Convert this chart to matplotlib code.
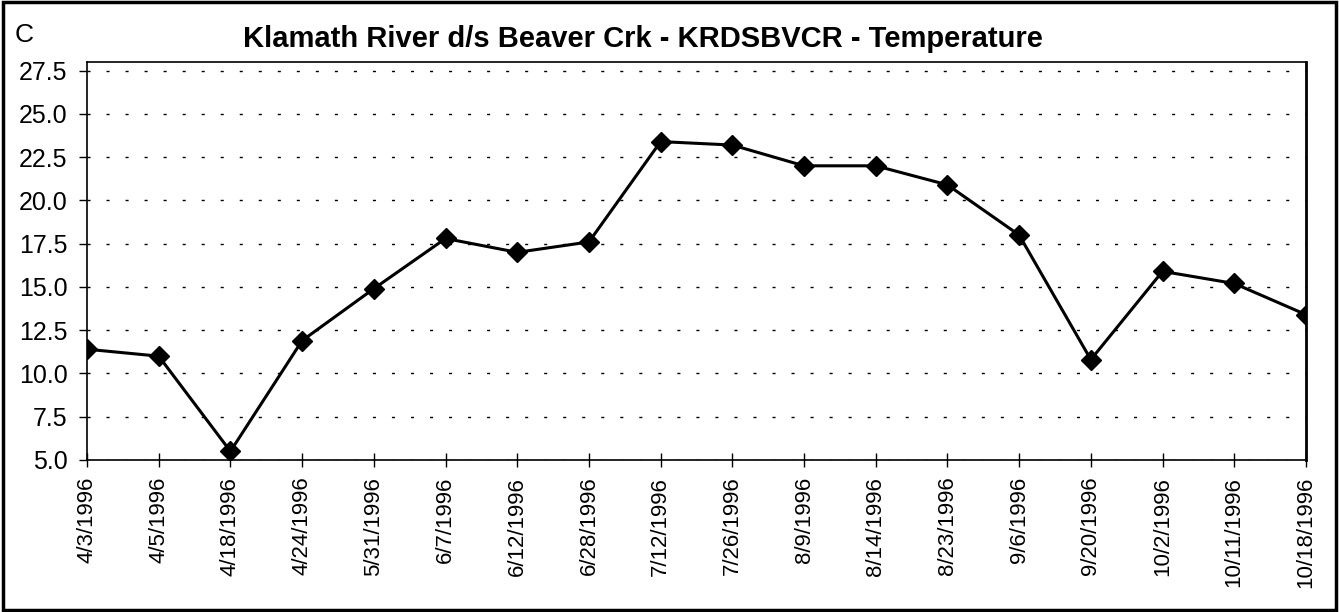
import matplotlib
matplotlib.use('Agg')
import matplotlib.pyplot as plt
from matplotlib.patches import Rectangle

plt.rcParams['font.family'] = ['Liberation Sans', 'DejaVu Sans']

dates = ['4/3/1996', '4/5/1996', '4/18/1996', '4/24/1996', '5/31/1996', '6/7/1996',
         '6/12/1996', '6/28/1996', '7/12/1996', '7/26/1996', '8/9/1996', '8/14/1996',
         '8/23/1996', '9/6/1996', '9/20/1996', '10/2/1996', '10/11/1996', '10/18/1996']
temps = [11.4, 11.0, 5.5, 11.9, 14.9, 17.8, 17.0, 17.6, 23.4, 23.2, 22.0, 22.0,
         20.9, 18.0, 10.8, 15.9, 15.2, 13.4]
y_ticks = [5.0, 7.5, 10.0, 12.5, 15.0, 17.5, 20.0, 22.5, 25.0, 27.5]

fig = plt.figure(figsize=(13.39, 6.12), dpi=100)
ax = fig.add_axes([0.065, 0.2484, 0.9103, 0.6503])

x = range(len(dates))
ax.plot(x, temps, color='black', linewidth=2.2, marker='D', markersize=10,
        markerfacecolor='black', markeredgecolor='black')

ax.set_xlim(0, len(dates) - 1)
ax.set_ylim(5.0, 28.0)
ax.set_yticks(y_ticks)
ax.set_yticklabels(['%.1f' % v for v in y_ticks])
ax.set_xticks(list(x))
ax.set_xticklabels(dates, rotation=90)

ax.yaxis.grid(True, color='black', linewidth=1.0, linestyle=(0, (2.2, 11.5)))
ax.set_axisbelow(True)

ax.tick_params(axis='y', direction='out', length=6, width=1, labelsize=18, pad=8)
ax.tick_params(axis='x', direction='inout', length=10, width=1, labelsize=16, pad=7)

for s in ax.spines.values():
    s.set_linewidth(1.2)
    s.set_color('black')
ax.spines['right'].set_linewidth(2)

fig.text(0.48, 0.936, 'Klamath River d/s Beaver Crk - KRDSBVCR - Temperature',
         ha='center', va='center', fontsize=21, fontweight='bold')
fig.text(0.011, 0.942, 'C', ha='left', va='center', fontsize=19)

fig.patches.append(Rectangle((0.002, 0.003), 0.996, 0.994, transform=fig.transFigure,
                             fill=False, edgecolor='black', linewidth=2.5))

fig.savefig('out.png', dpi=100)
